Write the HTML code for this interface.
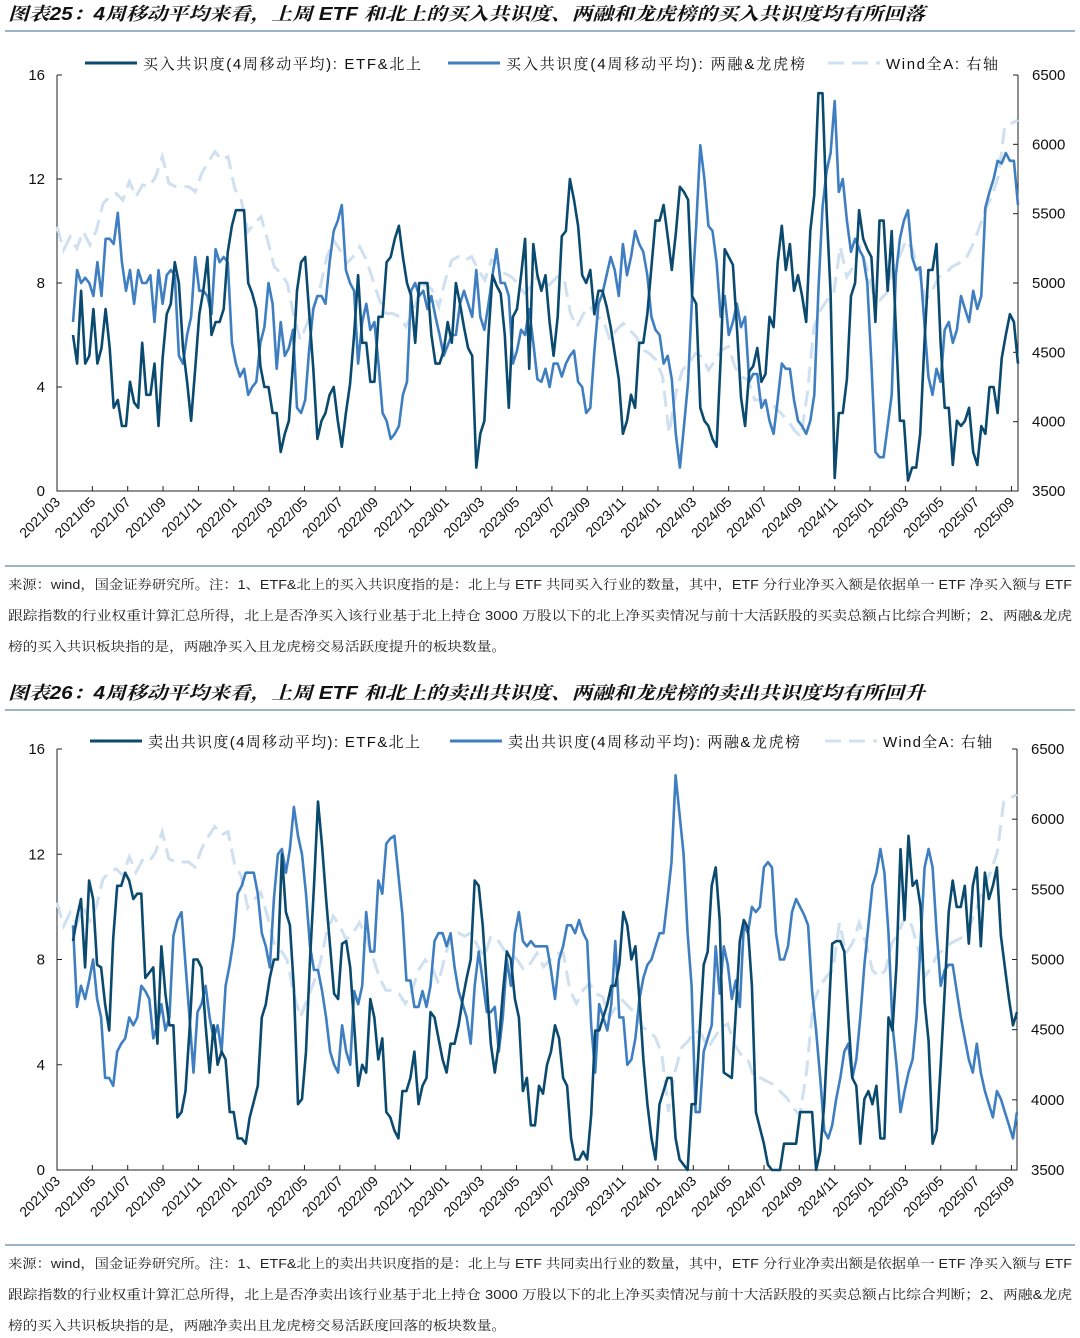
<!DOCTYPE html>
<html><head><meta charset="utf-8"><style>
body{margin:0;background:#fff;}
svg{display:block;}
text{font-family:"Liberation Sans","Noto Sans CJK SC",sans-serif;}
.cn{font-family:"Liberation Sans","Noto Serif CJK SC",serif;}
</style></head><body>
<svg id="root" width="1080" height="1338" viewBox="0 0 1080 1338" xmlns="http://www.w3.org/2000/svg">
<g>
<text x="8" y="20" font-size="18" font-weight="bold" font-style="italic" fill="#111" textLength="917" lengthAdjust="spacingAndGlyphs" class="cn">图表25：4周移动平均来看，上周 ETF 和北上的买入共识度、两融和龙虎榜的买入共识度均有所回落</text>
<line x1="5" y1="31" x2="1075" y2="31" stroke="#5f87a8" stroke-width="1.2"/>
</g>
<g id="p1"></g>
<line x1="5" y1="566" x2="1075" y2="566" stroke="#5f87a8" stroke-width="1.2"/>
<g font-size="13" fill="#222">
<text class="cn" x="8" y="589" textLength="1064" lengthAdjust="spacingAndGlyphs">来源：wind，国金证券研究所。注：1、ETF&amp;北上的买入共识度指的是：北上与 ETF 共同买入行业的数量，其中，ETF 分行业净买入额是依据单一 ETF 净买入额与 ETF</text>
<text class="cn" x="8" y="620" textLength="1064" lengthAdjust="spacingAndGlyphs">跟踪指数的行业权重计算汇总所得，北上是否净买入该行业基于北上持仓 3000 万股以下的北上净买卖情况与前十大活跃股的买卖总额占比综合判断；2、两融&amp;龙虎</text>
<text class="cn" x="8" y="651" textLength="498" lengthAdjust="spacingAndGlyphs">榜的买入共识板块指的是，两融净买入且龙虎榜交易活跃度提升的板块数量。</text>
</g>
<g>
<text x="8" y="699" font-size="18" font-weight="bold" font-style="italic" fill="#111" textLength="917" lengthAdjust="spacingAndGlyphs" class="cn">图表26：4周移动平均来看，上周 ETF 和北上的卖出共识度、两融和龙虎榜的卖出共识度均有所回升</text>
<line x1="5" y1="710" x2="1075" y2="710" stroke="#5f87a8" stroke-width="1.2"/>
</g>
<g id="p2"></g>
<line x1="5" y1="1245" x2="1075" y2="1245" stroke="#5f87a8" stroke-width="1.2"/>
<g font-size="13" fill="#222">
<text class="cn" x="8" y="1268" textLength="1064" lengthAdjust="spacingAndGlyphs">来源：wind，国金证券研究所。注：1、ETF&amp;北上的卖出共识度指的是：北上与 ETF 共同卖出行业的数量，其中，ETF 分行业净卖出额是依据单一 ETF 净买入额与 ETF</text>
<text class="cn" x="8" y="1299" textLength="1064" lengthAdjust="spacingAndGlyphs">跟踪指数的行业权重计算汇总所得，北上是否净卖出该行业基于北上持仓 3000 万股以下的北上净买卖情况与前十大活跃股的买卖总额占比综合判断；2、两融&amp;龙虎</text>
<text class="cn" x="8" y="1330" textLength="498" lengthAdjust="spacingAndGlyphs">榜的买入共识板块指的是，两融净卖出且龙虎榜交易活跃度回落的板块数量。</text>
</g>
</svg>
<script>
const dateLabels=["2021/03","2021/05","2021/07","2021/09","2021/11","2022/01","2022/03","2022/05","2022/07","2022/09","2022/11","2023/01","2023/03","2023/05","2023/07","2023/09","2023/11","2024/01","2024/03","2024/05","2024/07","2024/09","2024/11","2025/01","2025/03","2025/05","2025/07","2025/09"];
const leftTicks=[0,4,8,12,16];
const rightTicks=[3500,4000,4500,5000,5500,6000,6500];
const buyEtf=[6.0,4.9,7.7,4.9,5.2,7.0,4.9,5.5,7.0,5.5,3.2,3.5,2.5,2.5,4.2,3.4,3.2,5.7,3.7,3.7,4.9,2.5,5.1,6.8,7.2,8.8,8.0,5.5,4.2,2.7,4.7,6.8,7.7,9.0,6.0,6.5,6.5,7.0,9.2,10.2,10.8,10.8,10.8,8.0,7.6,7.0,4.8,4.0,4.0,3.0,3.0,1.5,2.2,2.7,4.9,7.7,8.8,9.0,6.8,4.7,2.0,2.7,3.0,3.7,4.0,2.7,1.7,3.0,4.1,6.0,8.3,5.7,5.7,4.2,4.2,6.7,6.7,8.8,9.0,9.7,10.2,9.0,8.0,7.5,5.7,8.0,8.0,8.0,6.0,4.9,4.9,5.4,6.5,5.7,8.0,7.2,6.3,5.5,5.2,0.9,2.2,2.7,6.0,8.3,7.9,7.6,6.0,3.2,6.7,7.0,8.3,9.7,4.7,9.5,8.3,
7.7,8.3,6.5,5.2,6.7,9.8,10.0,12.0,11.2,10.2,8.3,8.0,8.5,6.8,7.7,7.7,7.1,6.3,5.3,4.3,2.2,2.7,3.7,3.2,5.7,5.7,6.8,8.6,10.4,10.4,11.0,9.8,8.5,9.9,11.7,11.5,11.2,7.5,7.2,3.2,2.7,2.5,2.0,1.7,5.1,9.3,9.0,8.7,6.3,3.6,2.5,4.6,4.8,5.5,4.2,4.5,6.7,6.3,8.8,10.2,8.5,9.5,7.7,8.3,7.5,6.5,10.0,11.4,15.3,15.3,10.8,7.6,0.5,3.0,3.0,4.3,7.5,8.0,10.8,9.7,9.3,9.0,6.5,10.4,10.4,7.7,10.0,6.3,2.7,2.7,0.4,0.9,0.9,2.2,5.6,8.5,8.5,9.5,5.7,3.2,3.2,1.0,2.7,2.5,2.7,3.2,1.5,1.0,2.5,2.2,4.0,4.0,3.0,5.1,6.0,6.8,6.5,4.9];
const buyMargin=[6.5,8.5,8.0,8.2,8.0,7.5,8.8,7.5,9.7,9.7,9.5,10.7,8.8,7.7,8.5,7.2,8.5,8.0,8.0,8.3,6.5,8.5,7.2,8.3,8.5,8.3,5.2,4.9,6.0,6.7,9.0,7.7,7.7,7.5,6.8,9.3,8.8,9.0,8.8,5.7,4.9,4.4,4.7,3.7,4.0,4.2,5.7,6.3,8.0,7.2,4.7,6.5,5.2,5.5,6.2,3.2,3.0,3.5,5.5,7.0,7.5,7.5,7.2,8.8,10.0,10.4,11.0,8.5,8.0,7.7,4.9,6.5,7.2,6.2,6.5,4.9,3.0,2.7,2.0,2.2,2.5,3.7,4.2,7.7,8.0,7.5,7.7,7.0,7.5,6.7,6.0,5.2,5.6,6.0,6.0,7.2,7.7,7.2,6.7,8.5,6.7,6.2,7.2,8.3,9.3,8.0,8.0,7.5,4.9,5.4,6.2,6.0,7.0,5.7,4.3,
4.2,4.7,4.0,4.9,4.9,4.4,4.9,5.2,5.4,4.2,4.0,3.0,3.2,5.4,7.2,7.6,8.3,9.0,8.5,7.5,9.5,8.3,9.0,10.0,9.5,9.2,8.3,6.7,6.2,6.0,4.9,5.2,4.3,2.2,0.9,2.5,4.2,7.5,10.2,13.3,12.0,10.2,10.0,8.8,6.7,7.5,6.0,6.5,7.2,6.3,6.7,4.2,4.5,4.5,3.2,3.5,2.7,2.2,3.5,4.9,4.7,4.7,3.5,2.7,2.5,2.2,2.7,3.7,7.7,10.9,12.3,13.0,15.0,11.5,12.0,10.4,9.2,9.7,9.3,9.0,8.0,4.9,1.5,1.3,1.3,2.5,3.7,8.3,9.7,10.4,10.8,9.0,8.5,8.6,6.5,4.4,3.7,4.7,4.2,6.2,6.5,5.7,6.2,7.5,7.0,6.5,7.7,7.0,7.5,10.9,11.5,12.0,12.7,12.6,13.0,12.7,12.7,11.0];
const sellEtf=[8.7,9.6,10.3,7.7,11.0,10.3,7.8,7.7,6.3,5.3,8.8,10.8,10.8,11.3,11.0,10.3,10.5,10.5,7.3,7.5,7.7,4.8,8.5,6.7,5.5,5.5,2.0,2.2,3.0,5.3,8.0,8.0,7.7,5.5,3.7,5.5,4.0,4.5,4.2,2.2,2.2,1.2,1.2,1.0,2.0,2.6,3.2,5.8,6.3,7.3,8.0,8.0,12.0,9.8,9.3,6.9,2.5,2.7,4.5,8.0,10.8,14.0,12.3,10.3,8.5,6.7,6.5,8.6,8.7,7.7,5.5,3.2,4.0,3.7,6.5,5.8,4.2,5.0,2.2,2.0,1.5,1.2,3.0,3.0,3.5,4.5,2.5,3.2,3.5,6.0,5.8,5.0,4.2,3.7,4.8,4.8,5.5,6.5,7.3,8.0,11.0,10.8,9.3,7.0,4.8,3.7,4.8,6.7,8.3,8.0,6.5,5.8,3.0,3.5,1.7,1.7,3.2,
2.9,4.0,4.5,5.5,5.0,3.5,3.2,1.2,0.4,0.4,0.7,0.4,2.1,5.3,5.3,5.8,6.3,7.0,7.0,7.8,9.8,9.3,8.0,8.5,6.5,4.2,2.5,1.2,0.4,2.5,3.0,3.5,3.5,1.2,0.4,0.2,0.0,2.5,2.5,5.3,7.8,8.3,10.8,11.5,9.5,3.7,3.6,3.5,6.0,8.7,9.5,9.2,7.0,2.2,1.6,1.0,0.2,0.0,0.0,0.0,1.0,1.0,1.0,1.0,2.2,2.2,2.2,2.2,0.0,0.7,2.5,5.5,8.6,8.7,8.7,8.3,5.8,3.5,3.2,1.0,2.7,3.0,2.5,3.2,1.2,1.2,5.8,5.3,7.8,12.2,9.5,12.7,10.8,11.0,10.0,6.4,4.9,1.0,1.5,4.0,6.8,9.8,11.0,10.0,10.0,10.8,8.6,10.8,11.5,8.5,11.3,10.3,10.8,11.5,8.9,7.7,6.5,5.5,6.0];
const sellMargin=[9.3,6.2,7.0,6.5,7.2,8.0,6.5,5.8,3.5,3.5,3.2,4.5,4.8,5.0,5.8,5.5,5.8,7.0,6.8,6.5,5.0,5.5,6.3,5.3,5.8,8.9,9.5,9.8,7.8,5.8,3.7,6.0,6.3,7.0,5.8,5.0,5.5,4.5,7.0,7.8,8.8,10.5,10.8,11.3,11.3,11.3,10.5,9.0,8.5,7.7,10.3,12.0,12.2,11.3,12.2,13.8,12.7,12.0,10.5,8.5,7.6,7.6,6.8,5.8,4.5,4.0,3.7,5.5,4.5,4.0,6.8,6.3,7.0,9.8,8.3,8.3,11.0,10.5,12.4,12.6,12.7,11.2,9.7,7.2,7.2,6.2,6.2,6.8,6.2,7.0,8.7,9.0,9.0,8.5,9.0,7.7,6.8,6.3,5.8,4.8,7.0,8.3,7.2,6.0,6.0,6.2,4.5,5.8,8.0,7.0,9.0,9.8,8.7,8.5,8.7,8.5,
8.5,8.5,8.5,7.6,6.5,8.0,8.5,9.3,9.3,9.0,9.5,9.0,8.7,5.5,3.7,6.3,5.8,5.3,6.3,8.7,5.8,5.8,4.0,4.2,5.0,6.5,7.3,7.8,8.0,8.5,9.0,9.0,10.3,11.7,15.0,13.5,12.0,9.0,7.0,2.2,2.2,4.5,5.0,5.5,8.5,6.7,8.5,7.8,6.5,7.2,6.2,9.3,9.0,10.0,9.8,10.0,11.5,11.7,11.5,9.0,8.0,8.0,8.5,9.8,10.3,10.0,9.7,9.3,6.8,5.3,3.5,1.5,1.2,1.7,2.7,3.5,4.5,4.8,3.5,4.2,5.8,7.8,9.3,10.8,11.3,12.2,11.3,9.0,5.5,4.0,2.2,3.0,3.7,4.2,5.8,8.7,11.5,12.2,11.5,9.0,7.0,7.6,7.8,7.8,6.8,5.8,5.0,4.2,3.7,4.8,3.7,3.0,2.5,2.0,3.0,2.7,2.2,1.7,1.2,2.2];
const windA=[5406,5238,5334,5250,5370,5274,5382,5574,5622,5646,5598,5731,5622,5707,5695,5767,5911,5719,5695,5695,5695,5658,5791,5875,5947,5887,5911,5682,5598,5370,5430,5478,5310,5118,5070,4997,4757,4589,4709,4829,4973,5190,5310,5238,5142,5190,5262,5166,5021,4877,4781,4781,4757,4685,4781,4925,4997,4949,4829,5021,5166,5190,5166,5190,5093,5021,5166,5142,5070,5045,4997,4925,4973,
5045,4949,4997,5045,5045,4781,4685,4781,4829,4757,4733,4589,4661,4709,4661,4613,4517,4493,4444,4324,3916,4204,4372,4420,4493,4468,4372,4444,4517,4541,4396,4324,4300,4156,4156,4132,4108,4060,4012,3940,3892,4204,4685,4805,4877,4925,5262,5045,5118,5262,5118,4925,4877,4925,5118,5190,5310,5238,5070,4877,4949,5045,5070,5118,5142,5166,5262,5382,5526,5622,5767,6127,6151,6175];

const NS="http://www.w3.org/2000/svg";
function mk(parent,tag,attrs){const e=document.createElementNS(NS,tag);for(const k in attrs)e.setAttribute(k,attrs[k]);parent.appendChild(e);return e;}

function drawPanel(g,cfg,s1,s2,w,legend){
  const L=57,R=cfg.R,T=cfg.T,B=cfg.B;
  const yL=v=>B-(v/16)*(B-T);
  const yR=v=>B-((v-3500)/3000)*(B-T);
  const xs=(i,n,a,b)=>a+(b-a)*i/(n-1);
  let ax=mk(g,'path',{d:`M${L},${T}V${B}H${R}V${T}`,fill:'none',stroke:'#222','stroke-width':1});
  
  
  leftTicks.forEach(v=>{
    const y=yL(v);
    mk(g,'line',{x1:L,x2:L+5,y1:y,y2:y,stroke:'#222'});
    const t=mk(g,'text',{x:45,y:y+5,'font-size':15,'text-anchor':'end',fill:'#111'});
    t.textContent=v;
    
    
  });
  rightTicks.forEach(v=>{
    const y=yR(v);
    mk(g,'line',{x1:R-5,x2:R,y1:y,y2:y,stroke:'#222'});
    const t=mk(g,'text',{x:R+14,y:y+5,'font-size':15,fill:'#111'});
    t.textContent=v;
    
    
  });
  dateLabels.forEach((d,i)=>{
    const x=L+35.35*i;
    mk(g,'line',{x1:x,x2:x,y1:B-5,y2:B,stroke:'#222'});
    const t=mk(g,'text',{x:x+4,y:B+12,'font-size':14,'text-anchor':'end',fill:'#111',transform:`rotate(-45 ${x+4} ${B+12})`});
    t.textContent=d;
    
    
  });
  let p=mk(g,'polyline',{points:w.map((v,i)=>xs(i,w.length,57,R).toFixed(1)+','+yR(v).toFixed(1)).join(' '),fill:'none',stroke:'#cfe0f1','stroke-width':3,'stroke-dasharray':'16 8'});
  
  
  p=mk(g,'polyline',{points:s2.map((v,i)=>xs(i,s2.length,73,R).toFixed(1)+','+yL(v).toFixed(1)).join(' '),fill:'none',stroke:'#3f7fc1','stroke-width':2.6,'stroke-linejoin':'round'});
  
  
  p=mk(g,'polyline',{points:s1.map((v,i)=>xs(i,s1.length,73,R).toFixed(1)+','+yL(v).toFixed(1)).join(' '),fill:'none',stroke:'#0b4a6f','stroke-width':2.6,'stroke-linejoin':'round'});
  
  
  const ly=cfg.ly;
  legend.forEach(e=>{
    const lg=mk(g,'g',{});
    
    
    mk(lg,'line',{x1:e.x,x2:e.x+52,y1:ly,y2:ly,stroke:e.c,'stroke-width':3,'stroke-dasharray':e.dash||'none'});
    const t=mk(lg,'text',{x:e.x+58,y:ly+6,'font-size':15,fill:'#111',textLength:e.w,lengthAdjust:'spacing','class':'cn'});
    t.textContent=e.t;
  });
}
drawPanel(document.getElementById('p1'),{R:1018,T:75,B:491,ly:63},buyEtf,buyMargin,windA,[
 {x:85,c:'#0b4a6f',w:278,t:'买入共识度(4周移动平均): ETF&北上'},
 {x:448,c:'#3f7fc1',w:299,t:'买入共识度(4周移动平均): 两融&龙虎榜'},
 {x:828,c:'#cfe0f1',dash:'16 8',w:112,t:'Wind全A: 右轴'}]);
drawPanel(document.getElementById('p2'),{R:1017,T:749,B:1170,ly:741},sellEtf,sellMargin,windA,[
 {x:90,c:'#0b4a6f',w:272,t:'卖出共识度(4周移动平均): ETF&北上'},
 {x:450,c:'#3f7fc1',w:292,t:'卖出共识度(4周移动平均): 两融&龙虎榜'},
 {x:825,c:'#cfe0f1',dash:'16 8',w:109,t:'Wind全A: 右轴'}]);
</script>
</body></html>
